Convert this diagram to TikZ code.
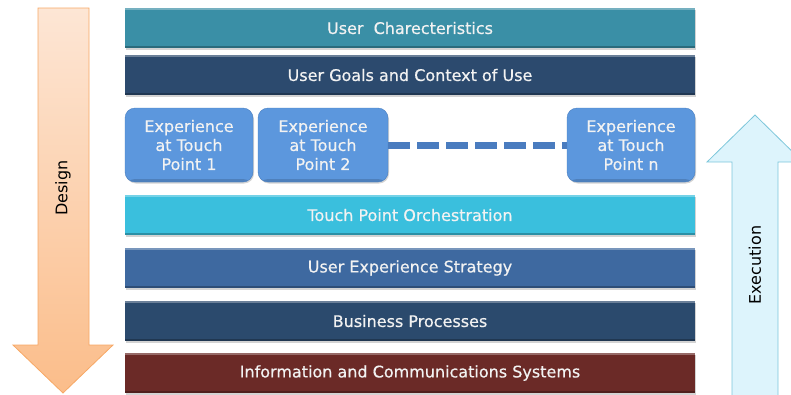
\documentclass[tikz,border=0pt]{standalone}
\usepackage{fontspec}
\setmainfont{DejaVu Sans}
\newfontfamily\barfont[FakeBold=0.5]{DejaVu Sans}
\usetikzlibrary{shadows}

\definecolor{charbar}{HTML}{3A8FA6}
\definecolor{goalbar}{HTML}{2C4A6E}
\definecolor{touchfill}{HTML}{5C97DD}
\definecolor{touchedge}{HTML}{4A80C2}
\definecolor{orchbar}{HTML}{3ABFDD}
\definecolor{uxbar}{HTML}{3E69A0}
\definecolor{bizbar}{HTML}{2B4A6D}
\definecolor{icsbar}{HTML}{6B2A27}
\definecolor{dashblue}{HTML}{4A7CBF}
\definecolor{designtop}{HTML}{FDE6D5}
\definecolor{designbot}{HTML}{FBBD8A}
\definecolor{designedge}{HTML}{F7A865}
\definecolor{execfill}{HTML}{DDF4FC}
\definecolor{execedge}{HTML}{7CC6DA}
\definecolor{bartext}{HTML}{F2F2F2}

\tikzset{
  layer/.style={fill=#1, minimum width=570pt, minimum height=40pt, inner sep=0pt,
    text=bartext, font=\barfont\fontsize{16}{19}\selectfont,
    drop shadow={shadow xshift=1pt, shadow yshift=-1.5pt, opacity=0.35},
    path picture={
      \fill[white,opacity=0.3] (path picture bounding box.north west) rectangle ([yshift=-2pt]path picture bounding box.north east);
      \fill[black,opacity=0.25] (path picture bounding box.south west) rectangle ([yshift=2pt]path picture bounding box.south east);
    }},
  touchbox/.style={fill=touchfill, draw=touchedge, rounded corners=10pt,
    minimum height=74pt, inner sep=0pt, align=center, text=bartext,
    font=\barfont\fontsize{16}{19}\selectfont,
    drop shadow={shadow xshift=1pt, shadow yshift=-1.5pt, opacity=0.35},
    path picture={
      \fill[black,opacity=0.15] (path picture bounding box.south west) rectangle ([yshift=3pt]path picture bounding box.south east);
    }},
  sidelabel/.style={rotate=90, font=\fontsize{16}{19}\selectfont},
}

\begin{document}
\begin{tikzpicture}[x=1pt,y=-1pt]
\useasboundingbox (0,0) rectangle (791,394);
\clip (0,0) rectangle (791,394);
% design arrow
\draw[designedge, top color=designtop, bottom color=designbot, line width=0.8pt]
  (38,8) -- (89,8) -- (89,345) -- (113,345) -- (63,393) -- (13,345) -- (38,345) -- cycle;
\node[sidelabel] (design) at (63,188) {Design};
% execution arrow
\draw[execedge, fill=execfill, line width=0.8pt]
  (732,400) -- (732,162) -- (707,162) -- (755,115) -- (803,162) -- (778,162) -- (778,400) -- cycle;
\node[sidelabel] (execution) at (755,265) {Execution};
% layers
\node[layer=charbar] (chars) at (410,28) {User\ \ Charecteristics};
\node[layer=goalbar] (goals) at (410,75) {User Goals and Context of Use};
\node[layer=orchbar] (orch) at (410,215) {Touch Point Orchestration};
\node[layer=uxbar] (strategy) at (410,268) {User Experience Strategy};
\node[layer=bizbar] (business) at (410,321) {Business Processes};
\node[layer=icsbar] (ics) at (410,373) {Information and Communications Systems};
% touch points
\node[touchbox, minimum width=128pt] (tp1) at (189,145) {Experience\\at Touch\\Point 1};
\node[touchbox, minimum width=130pt] (tp2) at (323,145) {Experience\\at Touch\\Point 2};
\node[touchbox, minimum width=128pt] (tpn) at (631,145) {Experience\\at Touch\\Point n};
\draw[dashblue, line width=7pt, dash pattern=on 22pt off 7pt] (tp2.east) -- (tpn.west);
\end{tikzpicture}
\end{document}
